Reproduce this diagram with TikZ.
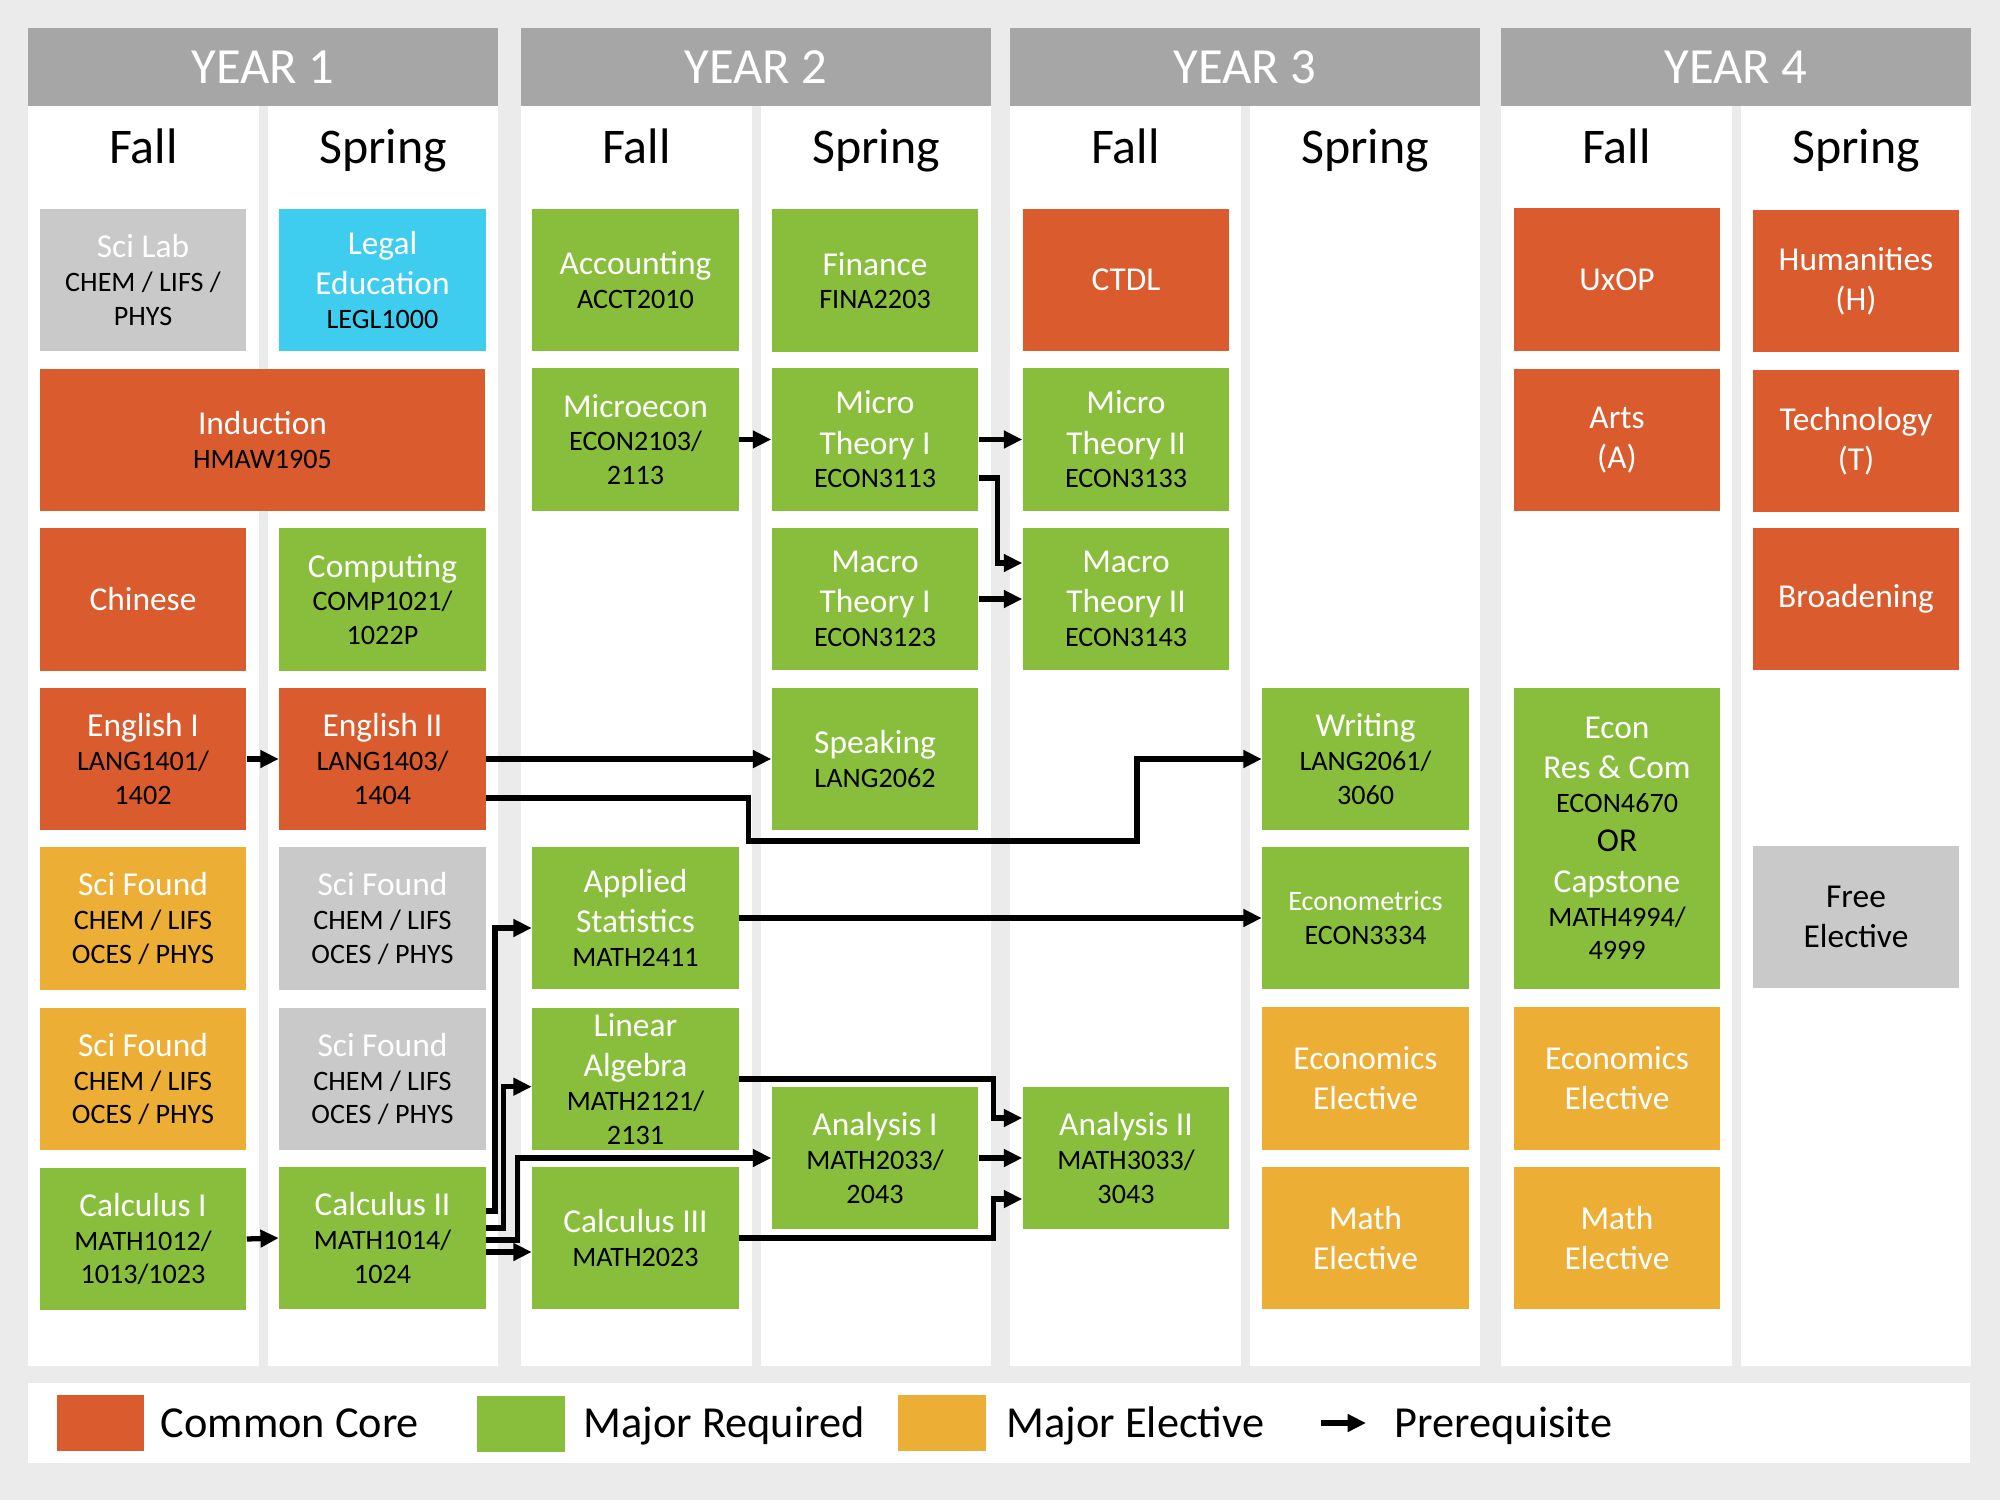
\documentclass[tikz,border=0pt]{standalone}
\usepackage{fontspec}
\setmainfont{Carlito}
\usetikzlibrary{arrows.meta,calc}
\definecolor{bgc}{HTML}{EBEBEB}
\definecolor{hdrc}{HTML}{A6A6A6}
\definecolor{ccc}{HTML}{DA5B2E}
\definecolor{mrc}{HTML}{89BE3D}
\definecolor{mec}{HTML}{EDAE36}
\definecolor{grc}{HTML}{C9C9C9}
\definecolor{cyc}{HTML}{3ECDEF}
\newcommand\ttl[1]{{\fontsize{9.5}{11}\selectfont\color{white}#1}}
\newcommand\ttb[1]{{\fontsize{9.5}{11}\selectfont\color{black}#1}}
\newcommand\cde[1]{{\color{black}#1}}
\begin{document}
\begin{tikzpicture}[x=0.01cm,y=-0.01cm,
  box/.style={rectangle, minimum width=2.06cm, minimum height=1.42cm, inner xsep=0pt, inner ysep=-14pt, align=center, font=\fontsize{8}{9.6}\selectfont, text=black},
  cc/.style={box, fill=ccc},
  mr/.style={box, fill=mrc},
  me/.style={box, fill=mec},
  gb/.style={box, fill=grc},
  hdr/.style={rectangle, fill=hdrc, minimum width=4.70cm, minimum height=0.78cm, inner sep=0pt, text=white, font=\fontsize{14.4}{16}\selectfont},
  sem/.style={anchor=base, inner sep=0pt, font=\fontsize{14.2}{16}\selectfont},
  arr/.style={draw=black, line width=1.5pt, -{Triangle[length=5.2pt,width=4.8pt]}},
  lgsw/.style={rectangle, minimum width=0.87cm, minimum height=0.56cm, inner sep=0pt},
  lgtx/.style={anchor=base west, inner sep=0pt, font=\fontsize{12.6}{14}\selectfont},
]
\fill[bgc] (0,0) rectangle (2000,1500);
\useasboundingbox (0,0) rectangle (2000,1500);

\foreach \x/\n in {28/1,521/2,1010/3,1501/4} {
  \fill[white] (\x,106) rectangle ({\x+231},1366);
  \fill[white] ({\x+240},106) rectangle ({\x+470},1366);
  \node[hdr] (year\n) at ({\x+235},67) {YEAR \n};
  \node[sem] (fall\n) at ({\x+115.5},164) {Fall};
  \node[sem] (spring\n) at ({\x+355},164) {Spring};
}

% Year 1
\node[gb] (scilab) at (143,280) {\ttl{Sci Lab}\\\cde{CHEM / LIFS /}\\\cde{PHYS}};
\node[box, fill=cyc] (legal) at (382.5,280) {\ttl{Legal}\\[1.8pt]\ttl{Education}\\\cde{LEGL1000}};
\node[cc, minimum width=4.45cm] (induction) at (262.5,440) {\ttl{Induction}\\\cde{HMAW1905}};
\node[cc] (chinese) at (143,599.5) {\ttl{Chinese}};
\node[mr] (computing) at (382.5,599.5) {\ttl{Computing}\\\cde{COMP1021/}\\\cde{1022P}};
\node[cc] (eng1) at (143,759) {\ttl{English I}\\\cde{LANG1401/}\\\cde{1402}};
\node[cc] (eng2) at (382.5,759) {\ttl{English II}\\\cde{LANG1403/}\\\cde{1404}};
\node[me] (sf1a) at (143,918.5) {\ttl{Sci Found}\\\cde{CHEM / LIFS}\\\cde{OCES / PHYS}};
\node[gb] (sf2a) at (382.5,918.5) {\ttl{Sci Found}\\\cde{CHEM / LIFS}\\\cde{OCES / PHYS}};
\node[me] (sf1b) at (143,1079) {\ttl{Sci Found}\\\cde{CHEM / LIFS}\\\cde{OCES / PHYS}};
\node[gb] (sf2b) at (382.5,1079) {\ttl{Sci Found}\\\cde{CHEM / LIFS}\\\cde{OCES / PHYS}};
\node[mr] (calc1) at (143,1239) {\ttl{Calculus I}\\\cde{MATH1012/}\\\cde{1013/1023}};
\node[mr] (calc2) at (382.5,1238) {\ttl{Calculus II}\\\cde{MATH1014/}\\\cde{1024}};

% Year 2
\node[mr] (acct) at (635.5,280) {\ttl{Accounting}\\\cde{ACCT2010}};
\node[mr] (microecon) at (635.5,439.5) {\ttl{Microecon}\\\cde{ECON2103/}\\\cde{2113}};
\node[mr] (appstat) at (635.5,918) {\ttl{Applied}\\[1.8pt]\ttl{Statistics}\\\cde{MATH2411}};
\node[mr] (linalg) at (635.5,1079) {\ttl{Linear}\\[1.8pt]\ttl{Algebra}\\\cde{MATH2121/}\\\cde{2131}};
\node[mr] (calc3) at (635.5,1238) {\ttl{Calculus III}\\\cde{MATH2023}};
\node[mr] (fin) at (875,280.5) {\ttl{Finance}\\\cde{FINA2203}};
\node[mr] (mt1) at (875,439.5) {\ttl{Micro}\\[1.8pt]\ttl{Theory I}\\\cde{ECON3113}};
\node[mr] (mac1) at (875,599) {\ttl{Macro}\\[1.8pt]\ttl{Theory I}\\\cde{ECON3123}};
\node[mr] (speak) at (875,759) {\ttl{Speaking}\\\cde{LANG2062}};
\node[mr] (ana1) at (875,1158) {\ttl{Analysis I}\\\cde{MATH2033/}\\\cde{2043}};

% Year 3
\node[cc] (ctdl) at (1126,280) {\ttl{CTDL}};
\node[mr] (mt2) at (1126,439.5) {\ttl{Micro}\\[1.8pt]\ttl{Theory II}\\\cde{ECON3133}};
\node[mr] (mac2) at (1126,599) {\ttl{Macro}\\[1.8pt]\ttl{Theory II}\\\cde{ECON3143}};
\node[mr] (ana2) at (1126,1158) {\ttl{Analysis II}\\\cde{MATH3033/}\\\cde{3043}};
\node[mr] (writing) at (1365.5,759) {\ttl{Writing}\\\cde{LANG2061/}\\\cde{3060}};
\node[mr] (econometrics) at (1365.5,918) {{\color{white}Econometrics}\\\cde{ECON3334}};
\node[me] (ee3) at (1365.5,1078.5) {\ttl{Economics}\\[1.8pt]\ttl{Elective}};
\node[me] (me3) at (1365.5,1238) {\ttl{Math}\\[1.8pt]\ttl{Elective}};

% Year 4
\node[cc] (uxop) at (1617,279.5) {\ttl{UxOP}};
\node[cc] (arts) at (1617,440) {\ttl{Arts}\\[1.8pt]\ttl{(A)}};
\node[mr, minimum height=3.01cm] (econres) at (1617,838.5) {\ttl{Econ}\\[1.8pt]\ttl{Res \& Com}\\\cde{ECON4670}\\[1.5pt]\ttb{OR}\\[2pt]\ttl{Capstone}\\\cde{MATH4994/}\\\cde{4999}};
\node[me] (ee4) at (1617,1078.5) {\ttl{Economics}\\[1.8pt]\ttl{Elective}};
\node[me] (me4) at (1617,1238) {\ttl{Math}\\[1.8pt]\ttl{Elective}};
\node[cc] (hum) at (1856,281) {\ttl{Humanities}\\[1.8pt]\ttl{(H)}};
\node[cc] (tech) at (1856,441) {\ttl{Technology}\\[1.8pt]\ttl{(T)}};
\node[cc] (broad) at (1856,599) {\ttl{Broadening}};
\node[gb] (free) at (1856,917) {\ttb{Free}\\[1.8pt]\ttb{Elective}};

% connectors
\coordinate (chA) at (997.5,0);
\coordinate (chB) at (993.5,0);
\coordinate (chC) at (495,0);
\coordinate (chD) at (503.5,0);
\coordinate (chE) at (517.5,0);
\coordinate (j7a) at (748.5,841);
\coordinate (j7b) at (1137,841);

\draw[arr] (microecon.east) -- (mt1.west);
\draw[arr] (mt1.east) -- (mt2.west);
\coordinate (s3) at ($(mt1.east)+(0,38.5)$);
\coordinate (e3) at ($(mac2.west)+(0,-36)$);
\draw[arr] (s3) -| (chA |- e3) -- (e3);
\draw[arr] (mac1.east) -- (mac2.west);
\draw[arr] (eng1.east) -- (eng2.west);
\draw[arr] (eng2.east) -- (speak.west);
\coordinate (s7) at ($(eng2.east)+(0,39)$);
\draw[arr] (s7) -| (j7a) -- (j7b) |- (writing.west);
\draw[arr] (appstat.east) -- (econometrics.west);
\draw[arr] (calc1.east) -- (calc2.west);
\coordinate (s10) at ($(calc2.east)+(0,-27)$);
\coordinate (e10) at ($(appstat.west)+(0,10)$);
\draw[arr] (s10) -| (chC |- e10) -- (e10);
\coordinate (s11) at ($(calc2.east)+(0,-10)$);
\coordinate (e11) at ($(linalg.west)+(0,7.7)$);
\draw[arr] (s11) -| (chD |- e11) -- (e11);
\coordinate (s12) at ($(calc2.east)+(0,2)$);
\coordinate (e12) at ($(ana1.west)+(0,0)$);
\draw[arr] (s12) -| (chE |- e12) -- (e12);
\coordinate (s13) at ($(calc2.east)+(0,14)$);
\draw[arr] (s13) -- (s13 -| calc3.west);
\coordinate (e14) at ($(ana2.west)+(0,-40)$);
\draw[arr] (linalg.east) -| (chB |- e14) -- (e14);
\draw[arr] (ana1.east) -- (ana2.west);
\coordinate (e16) at ($(ana2.west)+(0,41)$);
\draw[arr] (calc3.east) -| (chB |- e16) -- (e16);

% legend
\fill[white] (28,1383) rectangle (1970,1463);
\node[lgsw, fill=ccc] (lgcc) at (100.5,1423) {};
\node[lgtx] (lgcct) at (160,1437) {Common Core};
\node[lgsw, fill=mrc] (lgmr) at (521,1424) {};
\node[lgtx] (lgmrt) at (583,1437) {Major Required};
\node[lgsw, fill=mec] (lgme) at (942,1423) {};
\node[lgtx] (lgmet) at (1006,1437) {Major Elective};
\coordinate (lga) at (1321,1423);
\coordinate (lgb) at (1366,1423);
\draw[arr] (lga) -- (lgb);
\node[lgtx] (lgpt) at (1394,1437) {Prerequisite};
\end{tikzpicture}
\end{document}
